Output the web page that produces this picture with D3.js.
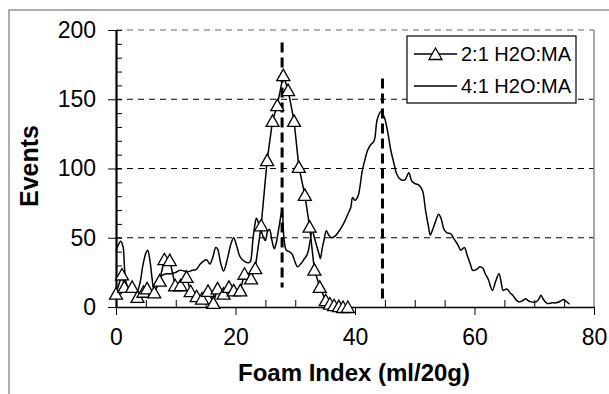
<!DOCTYPE html>
<html>
<head>
<meta charset="utf-8">
<script src="https://cdn.jsdelivr.net/npm/d3@7"></script>
<style>
  body { margin: 0; background: #fff; }
  svg { display: block; font-family: "Liberation Sans", Arial, sans-serif; }
</style>
</head>
<body>
<div id="chart"></div>
<script>
// 2:1 H2O:MA (triangle markers)
const foam21 = [0, 1.0, 1.4, 2.7, 3.6, 4.6, 5.2, 6.4, 7.3, 8.1, 9.0, 9.9, 10.8, 11.8, 12.5, 13.5, 14.4, 15.4, 16.3, 17.0,
  18.0, 18.9, 19.7, 20.8, 21.5, 22.6, 23.3, 24.3, 25.3, 26.2, 27.0, 28.0, 28.8, 29.8, 30.6, 31.6, 32.4, 33.2, 34.1,
  35.1, 35.8, 36.5, 37.3, 38.0, 38.8];
const events21 = [9.7, 23.5, 14.5, 14.5, 7.3, 11, 13.4, 10.5, 19, 34.5, 33.8, 15.7, 15.7, 21.7, 11.4, 7.8, 6.1, 11.6, 3, 13.4,
  9.7, 14.5, 12, 12, 24, 20.6, 28, 59, 106, 134.4, 145.8, 167.4, 156.6, 134.4, 101.2, 81, 58, 27, 14.5,
  4.9, 2.5, 1.3, 0.6, 0, 0];

// 4:1 H2O:MA (plain line)
const foam41 = [0, 0.3, 0.8, 1.2, 1.4, 1.6, 2.0, 2.5, 3.0, 3.5, 4.0, 4.5, 5.0, 5.3, 5.7, 6.0, 6.4, 6.8, 7.2, 7.8,
  8.5, 9.2, 10.0, 10.7, 11.4, 12.1, 12.8, 13.4, 14.1, 14.6, 15.2, 15.7, 16.2, 16.7, 17.0, 17.5, 18.0, 18.6, 19.2, 19.7,
  20.2, 20.8, 21.5, 22.2, 22.5, 22.9, 23.2, 23.5, 23.9, 24.3, 24.7, 25.0, 25.4, 25.7, 26.1, 26.5, 26.8, 27.3, 27.8, 28.1,
  28.5, 29.0, 29.5, 30.0, 30.4, 30.9, 31.4, 32.0, 32.5, 32.8, 33.2, 33.6, 34.0, 34.2, 34.5, 34.8, 35.2, 35.6, 36.1, 36.6,
  37.2, 37.8, 38.3, 38.8, 39.3, 39.6, 40.0, 40.5, 40.8, 41.2, 41.7, 42.1, 42.6, 43.2, 43.7, 44.3, 44.9, 45.4, 46.0, 46.5,
  46.9, 47.4, 47.9, 48.4, 49.0, 49.5, 50.1, 50.7, 51.3, 51.8, 52.3, 52.6, 53.0, 53.5, 54.0, 54.4, 54.9, 55.4, 56.0, 56.6,
  57.2, 57.7, 58.3, 58.8, 59.3, 59.7, 60.3, 60.9, 61.4, 61.8, 62.3, 63.0, 63.5, 64.1, 64.5, 64.8, 65.4, 66.0, 66.5, 67.0,
  67.5, 68.0, 68.6, 69.0, 69.5, 70.3, 70.8, 71.1, 71.6, 72.2, 73.0, 73.6, 74.3, 74.9, 75.5, 75.9];
const events41 = [40, 44, 47.5, 43, 30, 20, 14, 12, 11, 11, 17, 30, 39, 41, 33, 22, 12, 14, 21, 23,
  24, 24, 25, 26.6, 26, 25.5, 26.5, 27, 31, 33, 34, 31, 36, 43, 42, 32, 26, 34, 45, 50,
  44, 36, 33, 32, 33, 48, 58, 64, 60, 55, 50, 48, 55, 56, 48, 42, 46, 58, 70, 50,
  41, 40, 38, 32, 29, 31, 34, 38, 48, 56, 50, 44, 38, 35, 42, 48, 55, 52, 50, 51,
  54, 58, 62, 67, 72, 79, 77, 80, 86, 98, 107, 113, 117, 120, 135, 141, 137, 128, 113, 104,
  97, 93, 91.5, 92, 97, 91, 89, 88, 84, 70, 58, 52, 56, 62, 67, 64, 56, 53.5, 53, 49,
  45, 41, 43, 37, 31, 26.5, 27, 29, 28, 24, 20, 12, 18, 24, 17, 12, 13, 10, 8, 5,
  3.7, 4.5, 6, 4.5, 3.7, 3.7, 6, 8.5, 5, 2.5, 3, 3, 4, 5.5, 3.5, 2];

// peak markers: [foam index, bottom, top]
const peakLines = [[27.8, 14, 191], [44.6, 5, 165]];

const xTicks = [0, 20, 40, 60, 80];
const yTicks = [0, 50, 100, 150, 200];
const seriesNames = ["2:1 H2O:MA", "4:1 H2O:MA"];

const W = 609, H = 394;
const svg = d3.select("#chart").append("svg").attr("width", W).attr("height", H);

// outer frame
svg.append("rect").attr("x", 9).attr("y", 10).attr("width", 700).attr("height", 500)
  .attr("fill", "none").attr("stroke", "#777").attr("stroke-width", 1.2);

const x = d3.scaleLinear().domain([0, 80]).range([116, 594]);
const y = d3.scaleLinear().domain([0, 200]).range([307, 30]);

// gridlines
svg.append("g").selectAll("line").data(yTicks.filter(d => d > 0)).join("line")
  .attr("x1", x(0)).attr("x2", x(80))
  .attr("y1", d => y(d)).attr("y2", d => y(d))
  .attr("stroke", d => d === 200 ? "#666" : "#000").attr("stroke-width", 1)
  .attr("stroke-dasharray", "6,5");

// right border of plot
svg.append("line").attr("x1", x(80)).attr("x2", x(80)).attr("y1", y(200)).attr("y2", y(0))
  .attr("stroke", "#888").attr("stroke-width", 1.5);

// y axis: minor ticks inward, major outward with labels
svg.append("g").attr("transform", `translate(${x(0)},0)`)
  .call(d3.axisRight(y).tickValues(d3.range(0, 201, 10)).tickSize(6).tickFormat(""))
  .call(g => g.select(".domain").remove())
  .call(g => g.selectAll("line").attr("stroke", "#000"));
const yAxis = svg.append("g").attr("transform", `translate(${x(0)},0)`)
  .call(d3.axisLeft(y).tickValues(yTicks).tickSize(8).tickPadding(12).tickSizeOuter(0));
yAxis.select(".domain").attr("stroke", "#000").attr("stroke-width", 2.2);
yAxis.selectAll("text").attr("font-size", 23).attr("fill", "#000")
  .attr("font-family", "'Liberation Sans', Arial, sans-serif");

// x axis: minor ticks inward, major outward with labels
svg.append("g").attr("transform", `translate(0,${y(0)})`)
  .call(d3.axisTop(x).tickValues(d3.range(5, 80, 5).filter(d => d % 20 !== 0)).tickSize(7).tickFormat(""))
  .call(g => g.select(".domain").remove());
const xAxis = svg.append("g").attr("transform", `translate(0,${y(0)})`)
  .call(d3.axisBottom(x).tickValues(xTicks).tickSize(8).tickPadding(14).tickSizeOuter(0));
xAxis.select(".domain").attr("stroke", "#000").attr("stroke-width", 1.5);
xAxis.selectAll("text").attr("font-size", 23).attr("fill", "#000")
  .attr("font-family", "'Liberation Sans', Arial, sans-serif");

// axis titles
svg.append("text").attr("x", 354).attr("y", 381).attr("text-anchor", "middle")
  .attr("font-size", 24).attr("font-weight", "bold").text("Foam Index (ml/20g)");
svg.append("text").attr("transform", "translate(38,166) rotate(-90)").attr("text-anchor", "middle")
  .attr("font-size", 25).attr("font-weight", "bold").text("Events");

// peak marker lines
svg.append("g").selectAll("line").data(peakLines).join("line")
  .attr("x1", d => x(d[0])).attr("x2", d => x(d[0]))
  .attr("y1", d => y(d[2])).attr("y2", d => y(d[1]))
  .attr("stroke", "#000").attr("stroke-width", 3).attr("stroke-dasharray", "10,5");

// 4:1 series
const d41 = foam41.map((f, i) => [f, events41[i]]);
svg.append("path").datum(d41)
  .attr("d", d3.line().x(d => x(d[0])).y(d => y(d[1])).curve(d3.curveCatmullRom.alpha(0.5)))
  .attr("fill", "none").attr("stroke", "#000").attr("stroke-width", 1.5);

// 2:1 series
const d21 = foam21.map((f, i) => [f, events21[i]]);
svg.append("path").datum(d21)
  .attr("d", d3.line().x(d => x(d[0])).y(d => y(d[1])))
  .attr("fill", "none").attr("stroke", "#000").attr("stroke-width", 1.5);
const tri = "M0,-6L6.5,5.5L-6.5,5.5Z";
svg.append("g").selectAll("path").data(d21).join("path")
  .attr("d", tri).attr("transform", d => `translate(${x(d[0])},${y(d[1])})`)
  .attr("fill", "#fff").attr("stroke", "#000").attr("stroke-width", 1.3);

// legend
const lg = svg.append("g");
lg.append("rect").attr("x", 407).attr("y", 36).attr("width", 169).attr("height", 67)
  .attr("fill", "#fff").attr("stroke", "#000").attr("stroke-width", 1.2);
const rows = [54, 86];
seriesNames.forEach((name, i) => {
  lg.append("line").attr("x1", 414).attr("x2", 457).attr("y1", rows[i]).attr("y2", rows[i])
    .attr("stroke", "#000").attr("stroke-width", 1.5);
  if (i === 0) {
    lg.append("path").attr("d", tri).attr("transform", `translate(435.5,${rows[i]})`)
      .attr("fill", "#fff").attr("stroke", "#000").attr("stroke-width", 1.3);
  }
  lg.append("text").attr("x", 461).attr("y", rows[i] + 7).attr("font-size", 20).text(name);
});
</script>
</body>
</html>
